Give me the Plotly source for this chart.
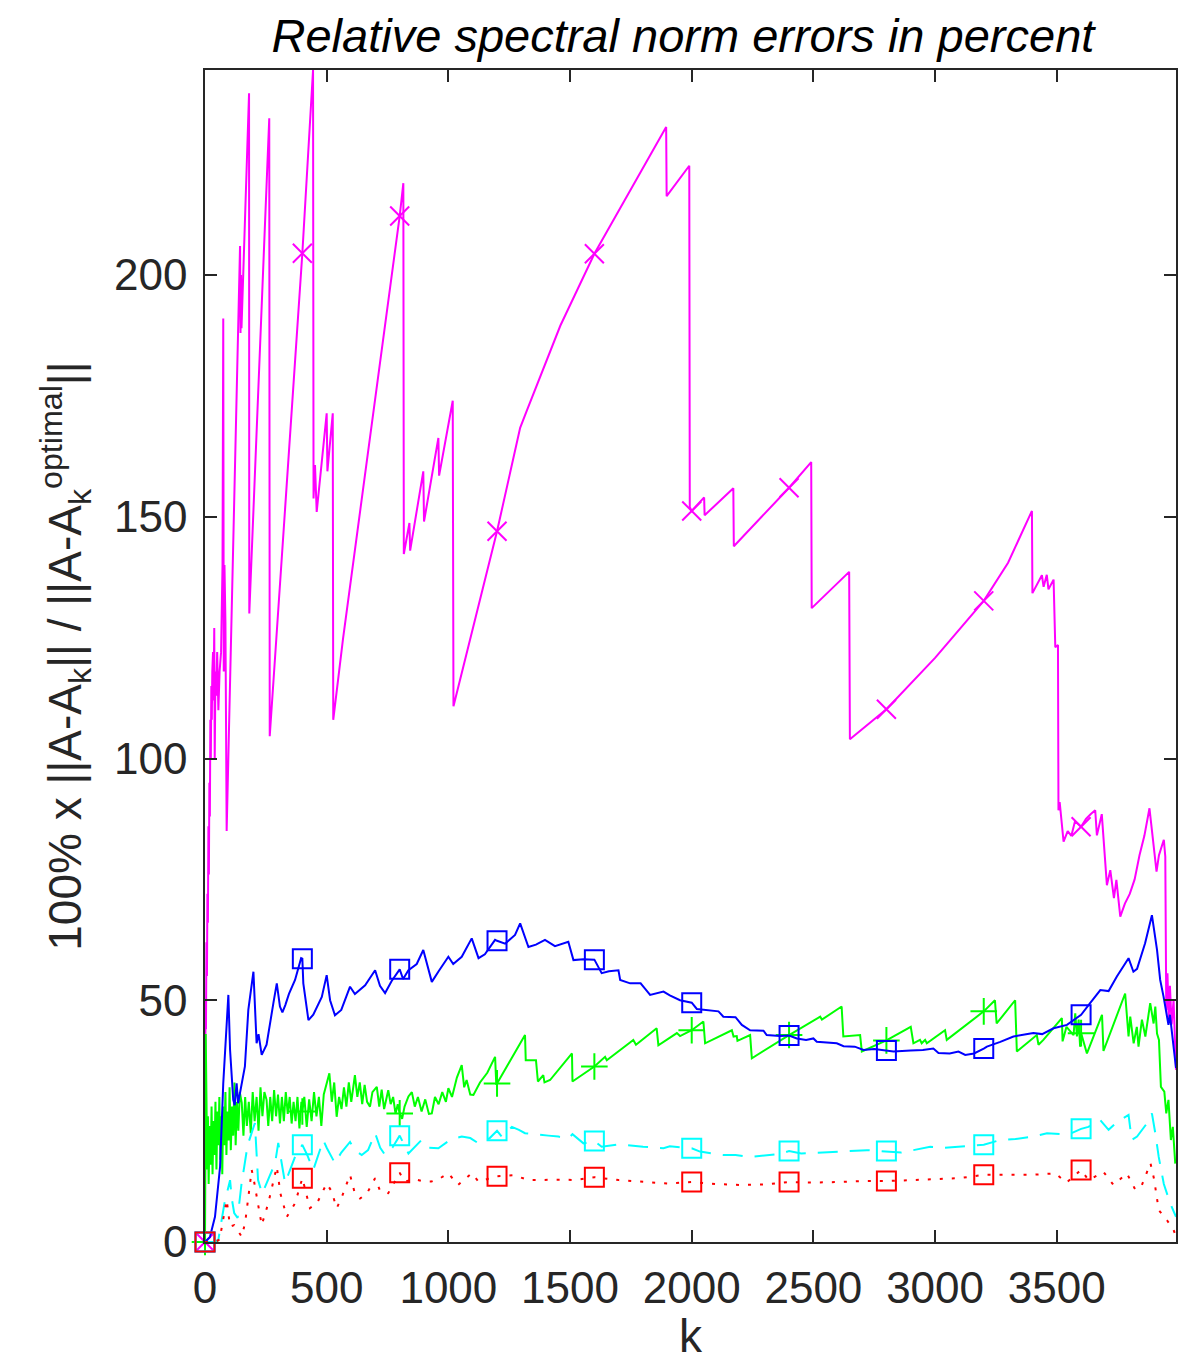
import plotly.graph_objects as go

# Relative spectral-norm errors (%) of rank-k approximations, five methods
mag_k = [0, 2, 4, 6, 8, 10, 12, 14, 16, 18, 20, 22, 24, 26, 28, 30, 33, 35, 38, 40, 43, 46, 50, 55, 60, 66, 72,
         75, 77, 80, 84, 89, 144, 146, 148, 150, 181, 182, 264, 266, 400, 444, 446, 452, 459, 500, 503, 525,
         527, 567, 800, 815, 817, 840, 843, 897, 900, 959, 962, 1018, 1021, 1200, 1295, 1322, 1460, 1600, 1760,
         1895, 1897, 1990, 1992, 2000, 2051, 2053, 2171, 2173, 2400, 2491, 2493, 2647, 2650, 2800, 3000, 3200,
         3300, 3398, 3400, 3439, 3446, 3459, 3466, 3487, 3494, 3505, 3507, 3512, 3528, 3545, 3560, 3575, 3600,
         3620, 3640, 3658, 3665, 3685, 3706, 3720, 3735, 3745, 3761, 3780, 3800, 3820, 3840, 3860, 3881, 3910,
         3920, 3935, 3940, 3946, 3950, 3955, 3960, 3965, 3972, 3980, 3990]
mag_y = [0, 50, 44, 62, 55, 72, 66, 86, 76, 95, 88, 108, 100, 115, 108, 118, 122, 112, 127, 100, 118, 113, 122,
         110, 118, 122, 140, 191, 118, 140, 128, 85, 206, 188, 200, 189, 237.6, 130, 232.4, 104.6, 204.5, 242.4,
         153.8, 160.7, 151, 171.4, 159.4, 171.4, 108, 124.7, 212.2, 219, 142.3, 148.7, 143, 159.4, 149, 166.3,
         158.5, 174, 110.8, 147, 168.4, 171.9, 189.5, 204.4, 218.6, 230.6, 216.3, 222.6, 152, 151.2, 154, 150.3,
         155.9, 143.9, 156, 161.3, 131.1, 138.6, 104, 110.2, 120.8, 132.6, 140.5, 151.2, 134.2, 137.9, 135.5,
         138, 135, 137, 123, 123.5, 89.3, 91, 82.8, 85, 84, 87, 85.9, 87.5, 88.5, 89.3, 84.1, 88.5, 73.8, 76.9,
         71.1, 74.9, 67.3, 70, 72, 75, 80, 84, 89.7, 76.6, 80, 82.5, 83.2, 79.7, 48, 55.6, 46, 53, 45, 50, 35.6]

blue_k = [0, 20, 41, 62, 75, 96, 103, 116, 122, 130, 136, 164, 178, 199, 212, 220, 233, 253, 281, 295, 308, 318,
          330, 345, 370, 395, 400, 404, 425, 445, 480, 500, 514, 534, 560, 596, 616, 658, 699, 719, 740, 767, 800,
          814, 836, 870, 897, 932, 960, 1000, 1020, 1055, 1096, 1124, 1150, 1192, 1200, 1233, 1274, 1295, 1329,
          1360, 1397, 1438, 1493, 1514, 1555, 1600, 1630, 1660, 1699, 1706, 1747, 1790, 1808, 1829, 1884, 1910,
          1952, 2000, 2021, 2069, 2110, 2130, 2180, 2206, 2240, 2295, 2308, 2363, 2400, 2432, 2470, 2500, 2514,
          2596, 2624, 2670, 2706, 2750, 2800, 2829, 2900, 2950, 2993, 3014, 3060, 3096, 3124, 3160, 3200, 3213,
          3268, 3322, 3380, 3404, 3440, 3487, 3542, 3600, 3637, 3679, 3713, 3747, 3795, 3815, 3830, 3863, 3891,
          3912, 3925, 3939, 3959, 3965, 3990]
blue_y = [0, 1, 5.2, 15.6, 32.8, 51.1, 39.7, 29.4, 28.3, 32.8, 28.7, 36.3, 48, 55.9, 41.1, 43, 38.7, 40.8, 49.4,
          53.5, 48.7, 47.5, 49, 51.3, 54.2, 58.7, 58.6, 53.5, 45.9, 47, 50.7, 55.2, 50, 46.9, 48, 52.8, 51.3, 53.1,
          56.2, 53, 51.5, 54, 56.4, 54.4, 56.2, 57.5, 60.4, 53.8, 56, 59, 57.5, 59, 62.8, 58.7, 59.5, 62.5, 62.3,
          61.7, 63.5, 65.9, 61, 61.5, 62.5, 61.2, 62.1, 58.3, 58.5, 58.4, 55.6, 56, 56.2, 54.2, 53.5, 53.5, 52.4,
          51.1, 51.8, 51, 50, 49.5, 48.2, 48, 47.7, 46.6, 46.5, 44.9, 43.8, 43.7, 42.8, 42.6, 42.7, 42.1, 41.8,
          42.1, 41.4, 41.1, 40.5, 40.4, 39.7, 39.9, 39.6, 39.4, 39.6, 39.7, 40, 39.1, 39, 39.4, 38.7, 39, 40, 40.4,
          41.4, 42.5, 43, 43.2, 43, 44.2, 44.9, 47, 49.4, 52.1, 51.9, 54.9, 58.7, 55.9, 56.5, 61.8, 67.6, 60.4,
          54.2, 50.7, 44.9, 47, 36]

green_k = [0, 3, 6, 9, 12, 15, 19, 23, 27, 31, 35, 39, 43, 47, 51, 55, 59, 63, 67, 71, 75, 79, 84, 88, 92, 97,
           101, 106, 111, 116, 121, 126, 131, 137, 143, 151, 158, 165, 172, 180, 188, 196, 204, 212, 220, 228, 236,
           244, 253, 260, 268, 276, 284, 292, 300, 308, 316, 324, 332, 340, 348, 356, 364, 372, 380, 388, 396, 400,
           408, 418, 428, 438, 448, 458, 468, 478, 488, 500, 511, 521, 531, 541, 551, 561, 571, 581, 591, 601, 616,
           626, 636, 646, 656, 666, 678, 688, 706, 716, 726, 736, 753, 763, 773, 783, 792, 800, 810, 820, 836, 850,
           862, 875, 890, 905, 920, 932, 945, 960, 975, 990, 1000, 1015, 1035, 1055, 1065, 1075, 1090, 1103, 1130,
           1160, 1192, 1197, 1200, 1315, 1318, 1360, 1368, 1390, 1395, 1418, 1508, 1510, 1600, 1644, 1651, 1760,
           1771, 1856, 1863, 1939, 1952, 2000, 2048, 2055, 2165, 2172, 2185, 2188, 2240, 2247, 2400, 2528, 2535,
           2616, 2623, 2692, 2699, 2800, 2900, 2911, 2938, 2945, 2959, 2966, 3041, 3048, 3200, 3246, 3253, 3329,
           3336, 3418, 3425, 3445, 3521, 3524, 3540, 3569, 3576, 3583, 3590, 3596, 3600, 3624, 3686, 3692, 3781,
           3795, 3802, 3816, 3829, 3836, 3850, 3864, 3884, 3898, 3905, 3912, 3920, 3928, 3942, 3950, 3959, 3969,
           3977, 3987]
green_y = [0, 43, 30, 15, 26, 12, 24, 16, 28, 14, 25, 18, 29, 15, 27, 20, 30, 17, 26, 14, 28, 20, 31, 18, 27, 21,
           32, 19, 28, 22, 33, 20, 29, 23, 31, 28.8, 22, 30, 24, 29, 22.5, 31, 25, 30, 23, 32, 26, 31, 29.4, 24, 30,
           25, 31.4, 26, 30.5, 24.5, 30, 25, 31, 26.5, 30, 24.5, 29, 25, 30, 23.5, 29, 27, 30, 23.8, 29.5, 25, 31,
           26, 30, 24, 30.5, 32.8, 34.9, 29, 33, 25.9, 30, 27.5, 32, 28, 33, 29, 34.5, 30, 33, 28.5, 32.5, 29, 28,
           31, 32.1, 28, 31.5, 27.5, 31.4, 28.5, 30, 26.5, 28.5, 26.6, 25.5, 28, 30.1, 31, 28, 30, 27, 29.5, 26.5,
           26.6, 30, 28.5, 31, 29, 31.8, 30, 34, 36.6, 32, 33.5, 30.5, 30.4, 33, 35, 38.3, 32.5, 32.8, 42.8, 37.6,
           37.6, 33.2, 34.5, 33, 33.5, 39, 33.2, 36.3, 38.3, 37.6, 41.8, 40.8, 44.2, 40.7, 43.2, 42.6, 43.8, 45.6,
           41.1, 43.8, 42.5, 42.6, 41.6, 42.8, 38, 42.8, 46.6, 46, 48.7, 42.5, 42.8, 39.4, 41.7, 44.5, 41.1, 41.8,
           41.1, 41.8, 41.1, 43.8, 41.8, 47.7, 50, 45.2, 50, 39.4, 42.8, 40.8, 41.8, 46.3, 41.5, 44.5, 42.8, 47.3,
           42.5, 46, 40.4, 43.2, 39, 47, 39.5, 51.4, 42.5, 46.6, 41.1, 44.5, 40.4, 46, 42.5, 49.4, 45.2, 48.7, 43.1,
           41.8, 32.1, 31.1, 26.6, 29.4, 21.1, 23.8, 16.2]

cyan_k = [0, 40, 55, 80, 103, 110, 120, 134, 150, 175, 205, 218, 235, 260, 288, 301, 329, 370, 400, 420, 445, 486,
          500, 534, 560, 596, 615, 644, 670, 699, 720, 740, 770, 800, 820, 836, 890, 920, 959, 1010, 1055, 1090,
          1124, 1170, 1200, 1219, 1261, 1290, 1315, 1370, 1411, 1452, 1493, 1510, 1530, 1555, 1600, 1630, 1700,
          1750, 1800, 1884, 1910, 2000, 2034, 2130, 2180, 2240, 2310, 2360, 2400, 2450, 2500, 2582, 2650, 2720,
          2800, 2860, 2911, 2980, 3040, 3100, 3200, 3268, 3330, 3404, 3460, 3520, 3560, 3600, 3630, 3679, 3713,
          3747, 3795, 3808, 3830, 3870, 3891, 3905, 3919, 3940, 3966, 3990]
cyan_y = [0, 0, 0.5, 8, 12.8, 9, 6, 5, 12, 20, 24.6, 12.8, 10, 13, 16.3, 20.5, 12.2, 17.6, 20.1, 18, 14.9, 21.1,
          19.5, 16.3, 18.5, 20.7, 19, 18, 19, 22.5, 19.5, 18, 19.5, 22, 20, 18.3, 21.1, 19.5, 19.4, 21.2, 21.8,
          21.5, 20.4, 21.5, 23, 21.8, 23.8, 23.2, 22.5, 22.3, 22, 21.8, 21.4, 22.3, 21.5, 20.4, 20.9, 19.7, 20.2,
          19.9, 19.7, 19.4, 19.8, 19.4, 18.7, 18, 18, 17.6, 17.9, 18.2, 18.8, 18.3, 18.4, 18.7, 18.8, 19, 18.8,
          18.5, 19, 19.7, 19.5, 19.7, 20.1, 21.1, 21.3, 21.8, 22.5, 22.3, 22.5, 23.4, 23.8, 25.2, 23.2, 24.8, 26.3,
          21.1, 21.8, 24.5, 26.6, 22.5, 17.6, 12, 8, 5.2]

red_k = [0, 40, 60, 82, 89, 103, 120, 151, 165, 192, 200, 233, 260, 295, 310, 336, 370, 400, 431, 460, 500, 520,
         541, 560, 596, 616, 637, 665, 699, 720, 753, 800, 820, 860, 900, 930, 960, 1000, 1040, 1096, 1124, 1200,
         1270, 1330, 1410, 1470, 1520, 1600, 1700, 1800, 1900, 2000, 2100, 2200, 2300, 2400, 2500, 2600, 2700,
         2800, 2900, 3000, 3100, 3200, 3300, 3400, 3494, 3540, 3600, 3631, 3692, 3733, 3788, 3823, 3850, 3885,
         3900, 3919, 3953, 3980, 3990]
red_y = [0, 0, 0.5, 6.6, 8.7, 3.2, 3.5, 1.1, 4, 14.9, 13, 3.5, 8, 15.6, 10, 5.2, 8, 13.2, 7, 8, 12.1, 10.5, 7, 9,
         13.9, 10, 9, 10, 13.2, 10.5, 10.1, 14.3, 12.5, 13, 12.5, 12.5, 13, 14.2, 11.8, 14.2, 12.5, 13.6, 13.8,
         12.8, 12.9, 12.9, 12.8, 13.4, 12.8, 12.4, 12.1, 12.4, 12, 11.8, 11.9, 12.4, 12.3, 12.4, 12.6, 12.6, 12.8,
         13, 13.2, 13.9, 13.9, 13.9, 14.2, 12.3, 14.9, 12.8, 14.5, 11.8, 14.2, 10.8, 11.8, 16.3, 13, 6.6, 4.5, 2.5,
         1.1]

marker_k = [0, 400, 800, 1200, 1600, 2000, 2400, 2800, 3200, 3600]

x_ticks = [0, 500, 1000, 1500, 2000, 2500, 3000, 3500]
y_ticks = [0, 50, 100, 150, 200]

series = [
    # (k, values, colour, dash, marker symbol, marker size)
    (mag_k, mag_y, "#FF00FF", "solid", "x-thin-open", 19),
    (green_k, green_y, "#00FF00", "solid", "cross-thin-open", 19),
    (blue_k, blue_y, "#0000FF", "solid", "square-open", 19),
    (cyan_k, cyan_y, "#00FFFF", "20px,12px", "square-open", 19),
    (red_k, red_y, "#FF0000", "3px,9px", "square-open", 19),
]

fig = go.Figure()
for ks, ys, col, dash, sym, size in series:
    fig.add_trace(go.Scatter(x=ks, y=ys, mode="lines",
                             line=dict(color=col, width=2, dash=dash),
                             showlegend=False, hoverinfo="skip"))
    lookup = dict(zip(ks, ys))
    fig.add_trace(go.Scatter(x=marker_k, y=[lookup[m] for m in marker_k], mode="markers",
                             marker=dict(symbol=sym, size=size, color=col,
                                         line=dict(color=col, width=2)),
                             cliponaxis=False,
                             showlegend=False, hoverinfo="skip"))

axis_col = "#262626"
font_family = "Liberation Sans, Arial, sans-serif"

fig.update_layout(
    width=1195, height=1362,
    margin=dict(l=205, r=19, t=70, b=120),
    paper_bgcolor="white", plot_bgcolor="white",
    font=dict(family=font_family, size=44, color=axis_col),
    title=dict(text="<i>Relative spectral norm errors in percent</i>",
               x=0.5715, xanchor="center", y=0.974, yanchor="middle",
               font=dict(size=47, color="black")),
)
fig.update_xaxes(
    range=[0, 3990], tickvals=x_ticks, ticktext=[str(v) for v in x_ticks],
    showgrid=False, zeroline=False, showline=True, linecolor=axis_col, linewidth=1.5,
    mirror="ticks", ticks="inside", ticklen=12, tickwidth=1.5, tickcolor=axis_col,
    tickfont=dict(size=44), ticklabelstandoff=6,
    title=dict(text="k", font=dict(size=46), standoff=6),
)
fig.update_yaxes(
    range=[0, 242.4], tickvals=y_ticks, ticktext=[str(v) for v in y_ticks],
    showgrid=False, zeroline=False, showline=True, linecolor=axis_col, linewidth=1.5,
    mirror="ticks", ticks="inside", ticklen=12, tickwidth=1.5, tickcolor=axis_col,
    tickfont=dict(size=44), ticklabelstandoff=7,
    title=dict(text="100% x ||A-A<sub>k</sub>|| / ||A-A<sub>k</sub><sup>optimal</sup>||",
               font=dict(size=46), standoff=18),
)

fig.write_html("out.html")
